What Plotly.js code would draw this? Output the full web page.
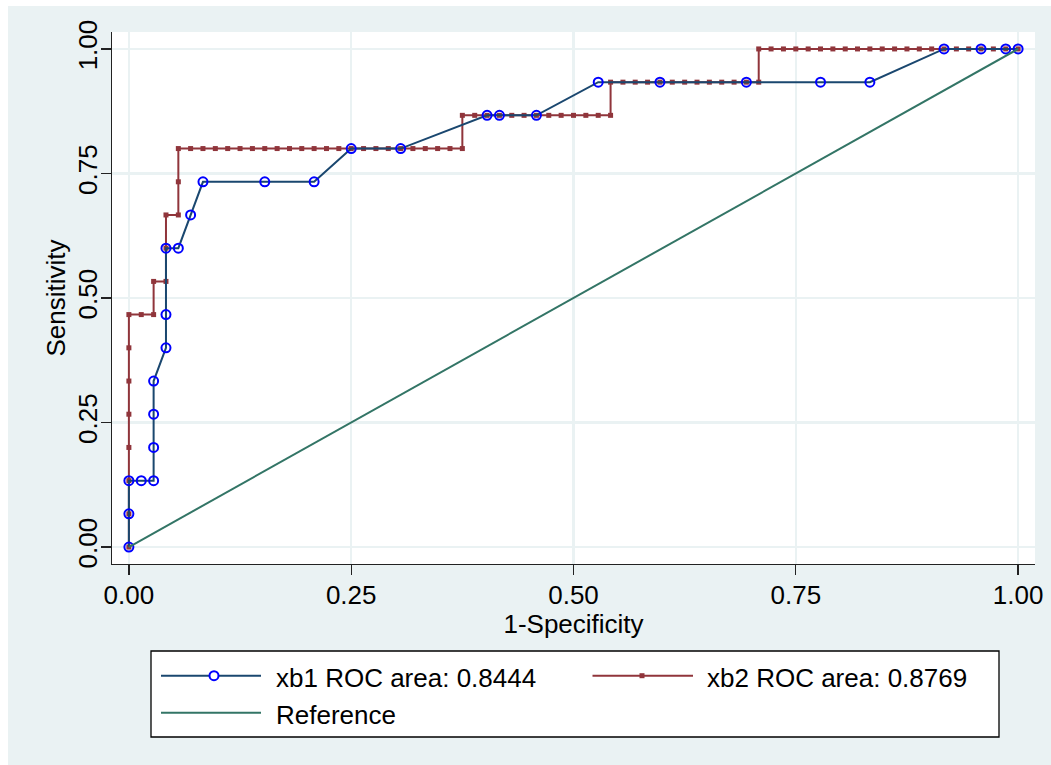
<!DOCTYPE html>
<html>
<head>
<meta charset="utf-8">
<script src="https://cdn.plot.ly/plotly-3.0.1.min.js"></script>
<style>
html, body { margin: 0; padding: 0; background: #ffffff; }
#chart { position: absolute; left: 8px; top: 6px; width: 1043px; height: 759px; }
</style>
</head>
<body>
<div id="chart"></div>
<script>
// ---- data: xb1 ROC curve (1-specificity, sensitivity) ----
const xb1FPR = [0, 0, 0, 0.0139, 0.0278, 0.0278, 0.0278, 0.0278, 0.0417, 0.0417, 0.0417,
  0.0556, 0.0694, 0.0833, 0.1528, 0.2083, 0.25, 0.3056, 0.4028, 0.4167, 0.4583,
  0.5278, 0.5972, 0.6944, 0.7778, 0.8333, 0.9167, 0.9583, 0.9861, 1];
const xb1Sens = [0, 0.0667, 0.1333, 0.1333, 0.1333, 0.2, 0.2667, 0.3333, 0.4, 0.4667, 0.6,
  0.6, 0.6667, 0.7333, 0.7333, 0.7333, 0.8, 0.8, 0.8667, 0.8667, 0.8667,
  0.9333, 0.9333, 0.9333, 0.9333, 0.9333, 1, 1, 1, 1];

// ---- data: xb2 ROC curve ----
const xb2FPR = [0, 0, 0, 0, 0, 0, 0, 0,
  0.0139, 0.0278,
  0.0278,
  0.0417,
  0.0417, 0.0417,
  0.0556,
  0.0556, 0.0556,
  0.0694, 0.0833, 0.0972, 0.1111, 0.125, 0.1389, 0.1528, 0.1667, 0.1806, 0.1944, 0.2083, 0.2222,
  0.2361, 0.25, 0.2639, 0.2778, 0.2917, 0.3056, 0.3194, 0.3333, 0.3472, 0.3611, 0.375,
  0.375,
  0.3889, 0.4028, 0.4167, 0.4306, 0.4444, 0.4583, 0.4722, 0.4861, 0.5, 0.5139, 0.5278, 0.5417,
  0.5417,
  0.5556, 0.5694, 0.5833, 0.5972, 0.6111, 0.625, 0.6389, 0.6528, 0.6667, 0.6806, 0.6944, 0.7083,
  0.7083,
  0.7222, 0.7361, 0.75, 0.7639, 0.7778, 0.7917, 0.8056, 0.8194, 0.8333, 0.8472, 0.8611, 0.875,
  0.8889, 0.9028, 0.9167, 0.9306, 0.9444, 0.9583, 0.9722, 0.9861, 1];
const xb2Sens = [0, 0.0667, 0.1333, 0.2, 0.2667, 0.3333, 0.4, 0.4667,
  0.4667, 0.4667,
  0.5333,
  0.5333,
  0.6, 0.6667,
  0.6667,
  0.7333, 0.8,
  0.8, 0.8, 0.8, 0.8, 0.8, 0.8, 0.8, 0.8, 0.8, 0.8, 0.8, 0.8,
  0.8, 0.8, 0.8, 0.8, 0.8, 0.8, 0.8, 0.8, 0.8, 0.8, 0.8,
  0.8667,
  0.8667, 0.8667, 0.8667, 0.8667, 0.8667, 0.8667, 0.8667, 0.8667, 0.8667, 0.8667, 0.8667, 0.8667,
  0.9333,
  0.9333, 0.9333, 0.9333, 0.9333, 0.9333, 0.9333, 0.9333, 0.9333, 0.9333, 0.9333, 0.9333, 0.9333,
  1,
  1, 1, 1, 1, 1, 1, 1, 1, 1, 1, 1, 1,
  1, 1, 1, 1, 1, 1, 1, 1, 1];

// ---- reference line ----
const refX = [0, 1];
const refY = [0, 1];

// ---- labels ----
const tickVals = [0, 0.25, 0.5, 0.75, 1];
const tickLabels = ['0.00', '0.25', '0.50', '0.75', '1.00'];
const seriesNames = ['xb1 ROC area: 0.8444', 'xb2 ROC area: 0.8769', 'Reference'];
const xTitle = '1-Specificity';
const yTitle = 'Sensitivity';

// ---- styling / layout ----
const C_BLUE_LINE = '#1a476f';
const C_BLUE_MARK = '#0000ff';
const C_RED = '#90353b';
const C_REF = '#337566';
const BG = '#eaf2f3';
const FONT = 'Liberation Sans, Arial, Helvetica, sans-serif';
const FS = 26;

const W = 1043, H = 759;
const M = { l: 104, r: 16, t: 26, b: 201 };
const PW = W - M.l - M.r, PH = H - M.t - M.b;
const px = x => (x - M.l) / PW;          // div pixel -> paper x
const py = y => (H - M.b - y) / PH;      // div pixel -> paper y

const traces = [
  { x: xb2FPR, y: xb2Sens, name: seriesNames[1], type: 'scatter', mode: 'lines+markers',
    line: { color: C_RED, width: 2 },
    marker: { symbol: 'square', size: 5, color: C_RED } },
  { x: xb1FPR, y: xb1Sens, name: seriesNames[0], type: 'scatter', mode: 'lines+markers',
    line: { color: C_BLUE_LINE, width: 2 },
    marker: { symbol: 'circle-open', size: 9, color: C_BLUE_MARK, line: { color: C_BLUE_MARK, width: 2 } } },
  { x: refX, y: refY, name: seriesNames[2], type: 'scatter', mode: 'lines',
    line: { color: C_REF, width: 2 } }
];

// custom legend (Stata style)
const row1 = 669.7, row2 = 706.7;
const shapes = [
  { type: 'rect', xref: 'paper', yref: 'paper', x0: px(143), x1: px(991), y0: py(731), y1: py(645),
    line: { color: '#000', width: 1.3 }, fillcolor: '#ffffff', layer: 'below' },
  { type: 'line', xref: 'paper', yref: 'paper', x0: px(153), x1: px(253), y0: py(row1), y1: py(row1),
    line: { color: C_BLUE_LINE, width: 2 } },
  { type: 'circle', xref: 'paper', yref: 'paper', xsizemode: 'pixel', ysizemode: 'pixel',
    xanchor: px(206), yanchor: py(row1), x0: -4.5, x1: 4.5, y0: -4.5, y1: 4.5,
    line: { color: C_BLUE_MARK, width: 2 }, fillcolor: '#ffffff' },
  { type: 'line', xref: 'paper', yref: 'paper', x0: px(584.5), x1: px(685), y0: py(row1), y1: py(row1),
    line: { color: C_RED, width: 2 } },
  { type: 'rect', xref: 'paper', yref: 'paper', xsizemode: 'pixel', ysizemode: 'pixel',
    xanchor: px(634), yanchor: py(row1), x0: -2.5, x1: 2.5, y0: -2.5, y1: 2.5,
    line: { color: C_RED, width: 0 }, fillcolor: C_RED },
  { type: 'line', xref: 'paper', yref: 'paper', x0: px(153), x1: px(253), y0: py(row2), y1: py(row2),
    line: { color: C_REF, width: 2 } }
];
const annFont = { family: FONT, size: FS, color: '#000' };
const annotations = [
  { xref: 'paper', yref: 'paper', x: px(266), y: py(row1 + 2), xanchor: 'left', yanchor: 'middle',
    text: seriesNames[0], showarrow: false, font: annFont },
  { xref: 'paper', yref: 'paper', x: px(697), y: py(row1 + 2), xanchor: 'left', yanchor: 'middle',
    text: seriesNames[1], showarrow: false, font: annFont },
  { xref: 'paper', yref: 'paper', x: px(266), y: py(row2 + 2), xanchor: 'left', yanchor: 'middle',
    text: seriesNames[2], showarrow: false, font: annFont }
];

const axisCommon = {
  tickmode: 'array', tickvals: tickVals, ticktext: tickLabels,
  showgrid: true, gridcolor: BG, gridwidth: 2.5,
  zeroline: false, showline: true, linecolor: '#222', linewidth: 1.3,
  ticks: 'outside', ticklen: 10, tickwidth: 1.3, tickcolor: '#222',
  tickfont: { family: FONT, size: FS, color: '#000' },
  automargin: false, fixedrange: true
};

const layout = {
  width: W, height: H,
  margin: M,
  paper_bgcolor: BG, plot_bgcolor: '#ffffff',
  showlegend: false,
  font: { family: FONT, size: FS, color: '#000' },
  xaxis: Object.assign({}, axisCommon, {
    range: [-0.019, 1.019], ticklabelstandoff: -3,
    title: { text: xTitle, font: { family: FONT, size: FS, color: '#000' }, standoff: 0 }
  }),
  yaxis: Object.assign({}, axisCommon, {
    range: [-0.034, 1.034], tickangle: -90, ticklabelstandoff: -7,
    title: { text: yTitle, font: { family: FONT, size: FS, color: '#000' }, standoff: 0 }
  }),
  shapes: shapes,
  annotations: annotations
};

Plotly.newPlot('chart', traces, layout, { staticPlot: true, displayModeBar: false });
</script>
</body>
</html>
